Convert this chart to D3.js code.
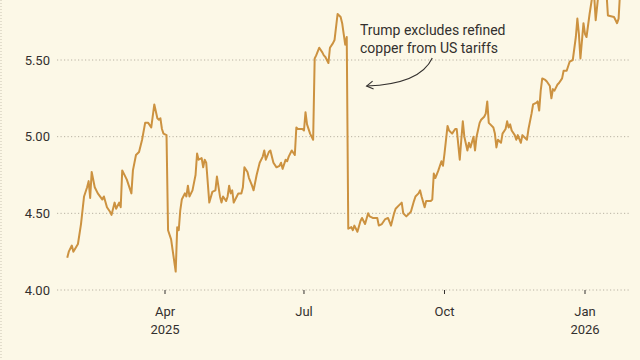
<!DOCTYPE html>
<html>
<head>
<meta charset="utf-8">
<script src="https://cdn.jsdelivr.net/npm/d3@7"></script>
<style>
html,body{margin:0;padding:0;background:#FCF8E7;}
svg{display:block;}
text{font-family:Roboto, "Noto Sans", sans-serif;fill:#33302e;}
</style>
</head>
<body>
<div id="chart"></div>
<script>
const dates = [
"2025-01-27","2025-01-28","2025-01-30","2025-01-31","2025-02-03","2025-02-05","2025-02-07","2025-02-09","2025-02-10","2025-02-11",
"2025-02-12","2025-02-14","2025-02-16","2025-02-19","2025-02-20","2025-02-22","2025-02-24","2025-02-25","2025-02-27","2025-02-28",
"2025-03-02","2025-03-03","2025-03-04","2025-03-07","2025-03-10","2025-03-11","2025-03-13","2025-03-15","2025-03-17","2025-03-19",
"2025-03-21","2025-03-23","2025-03-25","2025-03-27","2025-03-28","2025-03-29","2025-03-30","2025-03-31","2025-04-02","2025-04-03",
"2025-04-05","2025-04-06","2025-04-08","2025-04-09","2025-04-10","2025-04-11","2025-04-12","2025-04-14","2025-04-15","2025-04-16",
"2025-04-17","2025-04-19","2025-04-20","2025-04-21","2025-04-22","2025-04-23","2025-04-25","2025-04-26","2025-04-27","2025-04-28",
"2025-04-30","2025-05-02","2025-05-04","2025-05-05","2025-05-07","2025-05-08","2025-05-09","2025-05-11","2025-05-12","2025-05-13",
"2025-05-14","2025-05-15","2025-05-16","2025-05-18","2025-05-19","2025-05-21","2025-05-22","2025-05-23","2025-05-25","2025-05-26",
"2025-05-28","2025-05-29","2025-05-31","2025-06-02","2025-06-04","2025-06-05","2025-06-06","2025-06-08","2025-06-09","2025-06-11",
"2025-06-13","2025-06-15","2025-06-16","2025-06-17","2025-06-19","2025-06-20","2025-06-21","2025-06-23","2025-06-25","2025-06-26",
"2025-06-27","2025-06-30","2025-07-01","2025-07-02","2025-07-03","2025-07-05","2025-07-07","2025-07-08","2025-07-09","2025-07-11",
"2025-07-13","2025-07-14","2025-07-15","2025-07-17","2025-07-18","2025-07-20","2025-07-21","2025-07-23","2025-07-25","2025-07-26",
"2025-07-27","2025-07-28","2025-07-29","2025-07-30","2025-08-01","2025-08-02","2025-08-03","2025-08-05","2025-08-07","2025-08-08",
"2025-08-10","2025-08-12","2025-08-13","2025-08-15","2025-08-18","2025-08-19","2025-08-21","2025-08-23","2025-08-25","2025-08-27",
"2025-08-29","2025-08-30","2025-09-01","2025-09-03","2025-09-04","2025-09-06","2025-09-07","2025-09-09","2025-09-11","2025-09-12",
"2025-09-14","2025-09-15","2025-09-16","2025-09-18","2025-09-19","2025-09-22","2025-09-23","2025-09-24","2025-09-25","2025-09-27",
"2025-09-29","2025-09-30","2025-10-01","2025-10-03","2025-10-04","2025-10-06","2025-10-08","2025-10-09","2025-10-11","2025-10-12",
"2025-10-13","2025-10-14","2025-10-16","2025-10-17","2025-10-18","2025-10-20","2025-10-21","2025-10-22","2025-10-24","2025-10-25",
"2025-10-27","2025-10-28","2025-10-29","2025-10-30","2025-10-31","2025-11-02","2025-11-03","2025-11-04","2025-11-05","2025-11-07",
"2025-11-08","2025-11-10","2025-11-11","2025-11-12","2025-11-13","2025-11-14","2025-11-16","2025-11-17","2025-11-18","2025-11-20",
"2025-11-21","2025-11-23","2025-11-24","2025-11-25","2025-11-27","2025-11-28","2025-11-30","2025-12-01","2025-12-02","2025-12-03",
"2025-12-04","2025-12-06","2025-12-07","2025-12-09","2025-12-10","2025-12-11","2025-12-12","2025-12-14","2025-12-15","2025-12-17",
"2025-12-18","2025-12-20","2025-12-22","2025-12-24","2025-12-26","2025-12-27","2025-12-28","2025-12-29","2025-12-31","2026-01-01",
"2026-01-02","2026-01-04","2026-01-06","2026-01-07","2026-01-08","2026-01-10","2026-01-12","2026-01-15","2026-01-16","2026-01-20",
"2026-01-22","2026-01-23","2026-01-24"
];
const prices = [
4.21,4.25,4.29,4.25,4.30,4.43,4.61,4.67,4.71,4.60,
4.77,4.67,4.63,4.59,4.61,4.54,4.51,4.49,4.57,4.53,
4.57,4.54,4.78,4.72,4.63,4.78,4.88,4.90,4.98,5.09,
5.09,5.06,5.21,5.12,5.11,5.12,5.05,5.02,5.01,4.39,
4.33,4.26,4.12,4.41,4.39,4.52,4.59,4.63,4.61,4.68,
4.61,4.65,4.70,4.75,4.89,4.85,4.86,4.80,4.85,4.83,
4.57,4.64,4.65,4.74,4.61,4.57,4.61,4.58,4.61,4.68,
4.63,4.65,4.57,4.61,4.63,4.63,4.67,4.80,4.77,4.73,
4.68,4.65,4.75,4.83,4.87,4.91,4.85,4.90,4.91,4.83,
4.80,4.81,4.83,4.79,4.85,4.84,4.87,4.91,4.88,5.06,
5.05,5.05,5.04,5.16,5.08,5.02,4.98,5.51,5.53,5.58,
5.55,5.53,5.52,5.48,5.58,5.61,5.63,5.80,5.78,5.74,
5.67,5.60,5.65,4.40,4.41,4.39,4.42,4.38,4.45,4.47,
4.43,4.50,4.48,4.47,4.47,4.42,4.43,4.46,4.47,4.42,
4.50,4.53,4.55,4.57,4.50,4.48,4.49,4.51,4.58,4.61,
4.63,4.65,4.61,4.54,4.58,4.58,4.59,4.76,4.73,4.78,
4.84,4.81,4.89,5.07,5.04,5.02,5.05,5.05,4.85,4.98,
5.10,5.00,4.91,4.96,4.93,5.00,4.91,5.00,5.09,5.11,
5.13,5.15,5.23,5.09,5.08,5.06,5.02,4.93,4.98,4.96,
5.02,5.05,5.10,5.06,5.08,5.04,5.01,4.98,5.01,4.96,
5.01,4.99,4.98,5.05,5.15,5.21,5.22,5.23,5.17,5.30,
5.38,5.37,5.36,5.33,5.25,5.31,5.30,5.34,5.35,5.38,
5.43,5.43,5.49,5.50,5.65,5.77,5.67,5.51,5.74,5.67,
5.65,5.80,5.93,5.92,5.76,5.95,5.97,5.95,5.79,5.78,
5.74,5.77,5.95
];
const yTicks = [4.0, 4.5, 5.0, 5.5];
const xTicks = [
  {date:"2025-04-01", l1:"Apr", l2:"2025"},
  {date:"2025-07-01", l1:"Jul", l2:""},
  {date:"2025-10-01", l1:"Oct", l2:""},
  {date:"2026-01-01", l1:"Jan", l2:"2026"}
];
const annotation = ["Trump excludes refined", "copper from US tariffs"];

const W = 640, H = 360;
const parse = d3.timeParse("%Y-%m-%d");
const data = dates.map((d,i)=>({date:parse(d), v:prices[i]}));

const x = d3.scaleTime()
  .domain([parse("2025-04-01"), parse("2026-01-01")])
  .range([165, 585]);
const y = d3.scaleLinear().domain([4.0, 5.5]).range([290, 60]);

const svg = d3.select("#chart").append("svg")
  .attr("width", W).attr("height", H);

svg.append("rect").attr("width", W).attr("height", H).attr("fill", "#FCF8E7");

// left dotted border
svg.append("line").attr("x1",1).attr("x2",1).attr("y1",0).attr("y2",H)
  .attr("stroke","#c9c3b2").attr("stroke-width",1).attr("stroke-dasharray","1,2");

// gridlines
const grid = svg.append("g");
grid.selectAll("line").data(yTicks).join("line")
  .attr("x1", 57).attr("x2", 630)
  .attr("y1", d=>y(d)).attr("y2", d=>y(d))
  .attr("stroke", "#b8b2a3").attr("stroke-width", 1)
  .attr("stroke-dasharray", "1.2,2.3");

grid.selectAll("text").data(yTicks).join("text")
  .attr("x", 50).attr("y", d=>y(d)).attr("dy", "0.36em")
  .attr("text-anchor","end").attr("font-size", 13)
  .text(d=>d3.format(".2f")(d));

// x ticks
const xt = svg.append("g");
const xg = xt.selectAll("g").data(xTicks).join("g")
  .attr("transform", d=>`translate(${x(parse(d.date))},0)`);
xg.append("line").attr("y1", 290).attr("y2", 294).attr("stroke","#33302e").attr("stroke-width",1);
xg.append("text").attr("y", 316).attr("text-anchor","middle").attr("font-size",13).text(d=>d.l1);
xg.append("text").attr("y", 334).attr("text-anchor","middle").attr("font-size",13).text(d=>d.l2);

// line
const line = d3.line().x(d=>x(d.date)).y(d=>y(d.v)).curve(d3.curveLinear);
svg.append("path").datum(data)
  .attr("d", line).attr("fill","none")
  .attr("stroke","#CC9240").attr("stroke-width",2).attr("stroke-linejoin","round");

// annotation
const ann = svg.append("g");
ann.selectAll("text").data(annotation).join("text")
  .attr("x", 360).attr("y", (d,i)=>35 + i*18)
  .attr("font-size", 14).text(d=>d);

const ax0 = x(parse("2025-09-23")), ay0 = 58;
const ax1 = x(parse("2025-08-11")) , ay1 = y(5.33);
ann.append("path")
  .attr("d", `M${ax0},${ay0} Q${ax0-12},${ay1-2} ${ax1},${ay1}`)
  .attr("fill","none").attr("stroke","#33302e").attr("stroke-width",1.1);
ann.append("path")
  .attr("d", `M${ax1+6},${ay1-5} L${ax1},${ay1} L${ax1+7},${ay1+3}`)
  .attr("fill","none").attr("stroke","#33302e").attr("stroke-width",1.1);
</script>
</body>
</html>
